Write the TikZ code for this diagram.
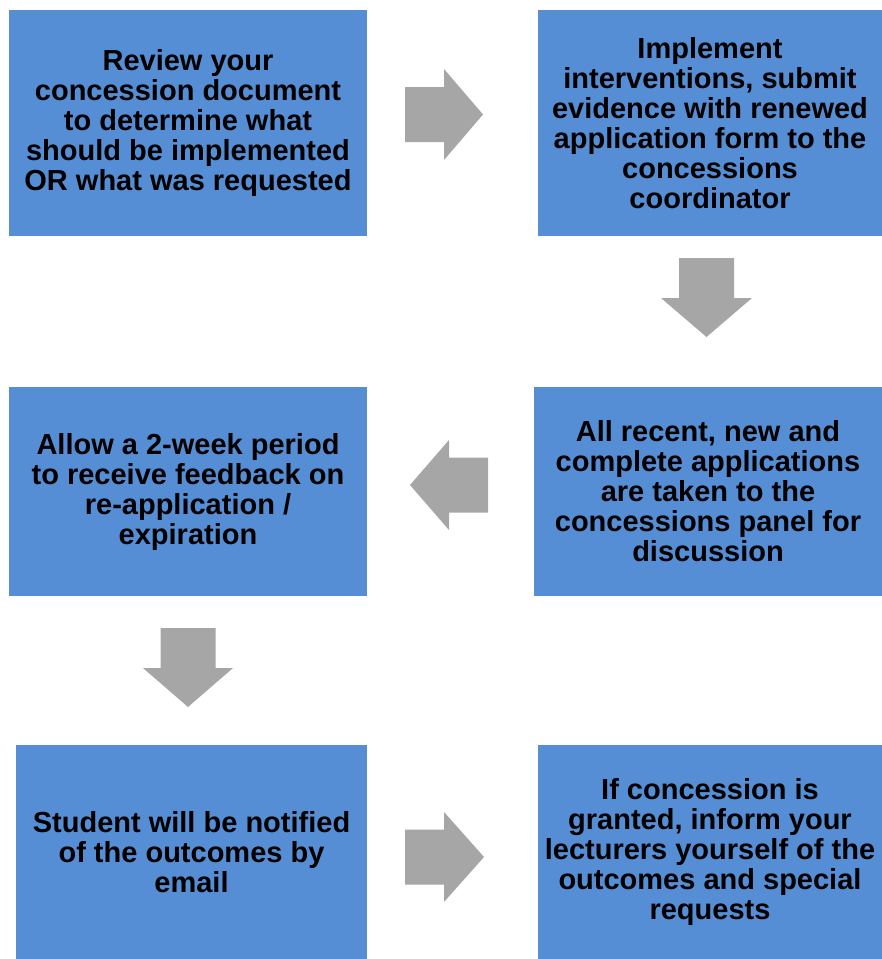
\documentclass[tikz,border=0pt]{standalone}
\usepackage{fontspec}
\setmainfont{Liberation Sans}
\usepackage{xcolor}
\definecolor{stepblue}{RGB}{85, 142, 213}
\definecolor{arrowgray}{RGB}{166, 166, 166}
\usetikzlibrary{positioning}

\begin{document}
\begin{tikzpicture}[
    x=1pt, y=-1pt,
    box/.style={rectangle, fill=stepblue, draw=none, align=center, inner sep=0pt,
        font=\fontsize{29}{30}\selectfont\bfseries, text=black},
    blockarrow/.style={fill=arrowgray, draw=none}
]
    \useasboundingbox (0,0) rectangle (882,959);

    % Top row
    \node[box, minimum width=358pt, minimum height=226pt] (review) at (188,123) {
        Review your\\
        concession document\\
        to determine what\\
        should be implemented\\
        OR what was requested
    };
    \node[box, minimum width=344pt, minimum height=226pt] (implement) at (710,123) {
        Implement\\
        interventions, submit\\
        evidence with renewed\\
        application form to the\\
        concessions\\
        coordinator
    };

    % Middle row
    \node[box, minimum width=348pt, minimum height=209pt] (panel) at (708,491.5) {
        All recent, new and\\
        complete applications\\
        are taken to the\\
        concessions panel for\\
        discussion
    };
    \node[box, minimum width=358pt, minimum height=209pt] (wait) at (188,491.5) {
        Allow a 2-week period\\
        to receive feedback on\\
        re-application /\\
        expiration
    };

    % Bottom row
    \node[box, minimum width=351pt, minimum height=214pt] (notify) at (191.5,852) {
        Student will be notified\\
        of the outcomes by\\
        email
    };
    \node[box, minimum width=344pt, minimum height=214pt] (inform) at (710,852) {
        If concession is\\
        granted, inform your\\
        lecturers yourself of the\\
        outcomes and special\\
        requests
    };

    % Block arrows between the steps
    \fill[blockarrow] (405,87) -- (444,87) -- (444,69) -- (483,114.5)
        -- (444,160) -- (444,142) -- (405,142) -- cycle;
    \fill[blockarrow] (679,258) -- (734,258) -- (734,298) -- (752,298)
        -- (706.5,337) -- (661,298) -- (679,298) -- cycle;
    \fill[blockarrow] (488,457.5) -- (449,457.5) -- (449,440) -- (410,485)
        -- (449,530) -- (449,512.5) -- (488,512.5) -- cycle;
    \fill[blockarrow] (160.5,628) -- (215.5,628) -- (215.5,668) -- (233,668)
        -- (188,707) -- (143,668) -- (160.5,668) -- cycle;
    \fill[blockarrow] (405,829.5) -- (444,829.5) -- (444,812) -- (484,857)
        -- (444,902) -- (444,884.5) -- (405,884.5) -- cycle;
\end{tikzpicture}
\end{document}
